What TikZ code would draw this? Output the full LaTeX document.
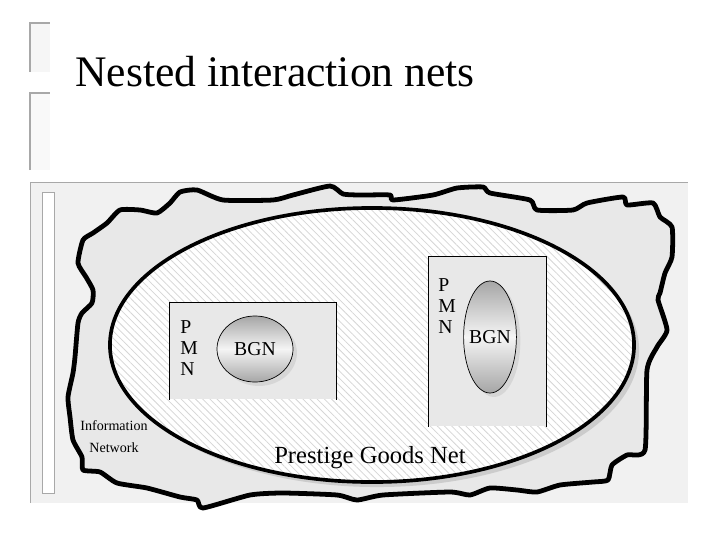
\documentclass[tikz,border=0pt]{standalone}
\usepackage{fontspec}
\setmainfont{Liberation Serif}
\usepackage{tikz}
\usetikzlibrary{shapes.geometric, positioning, shadows, patterns.meta}
\definecolor{panel}{HTML}{F1F1F1}
\definecolor{netfill}{HTML}{E8E8E8}
\definecolor{hatch}{HTML}{D6D6D6}
\definecolor{edge}{HTML}{A8A8A8}

\begin{document}
\begin{tikzpicture}[x=0.025cm, y=-0.025cm,
    pmnbox/.style={rectangle, fill=netfill, inner sep=0pt, anchor=north west},
    pmnlabel/.style={align=left, inner sep=0pt, font=\fontsize{14}{15}\selectfont},
    bgn/.style={ellipse, draw=black, line width=0.5pt, inner sep=0pt,
        top color=gray!70, bottom color=gray!70, middle color=gray!8,
        drop shadow={shadow xshift=2.8pt, shadow yshift=-2.8pt, fill=gray!45},
        label={[font=\fontsize{14}{15}\selectfont]center:BGN}}]
    \useasboundingbox (0,0) rectangle (720,540);

    % slide frame
    \fill[gray!7] (30,23) rectangle (50,72);
    \draw[edge, line width=1.2pt] (30,72) |- (50,23);
    \fill[gray!5] (30,93) rectangle (50,170);
    \draw[edge, line width=1.2pt] (30,170) |- (50,93);
    \node[anchor=base west, inner sep=0pt, font=\fontsize{31}{36}\selectfont] (title) at (75,86) {Nested interaction nets};

    \fill[panel] (30,182) rectangle (688,503);
    \draw[edge] (30,503) |- (688,182);
    \filldraw[fill=white, draw=edge] (42,192) rectangle (54,493);

    % information network
    \draw[line width=3.4pt, line join=round, fill=netfill] plot[smooth cycle, tension=0.35] coordinates {
        (78,263) (83,240) (93,233) (107,223) (120,210) (140,210) (157,213) (170,203) (180,192)
        (197,190) (223,200) (273,200) (293,195) (330,186) (343,194) (360,195) (390,195) (393,200)
        (433,195) (457,188) (483,187) (490,193) (530,200) (537,210) (573,210) (587,203) (623,197)
        (627,205) (653,203) (660,217) (672,227) (672,257) (665,273) (660,293) (658,300) (667,330)
        (657,347) (647,370) (645,450) (627,455) (612,465) (608,480) (593,482) (560,485) (537,492)
        (517,490) (490,488) (470,495) (450,492) (383,495) (357,500) (337,495) (283,493) (250,495)
        (203,508) (197,500) (180,497) (147,488) (117,483) (100,472) (83,470) (82,457) (73,440)
        (70,417) (68,397) (73,373) (75,357) (78,323) (82,313) (92,303) (93,290) (86,277)};
    \node[align=center, inner sep=0pt, font=\fontsize{10}{15.6}\selectfont] (infonet) at (114,437) {Information\\Network};

    % prestige goods net
    \fill[gray!40] (377,350) ellipse [x radius=6.55cm, y radius=3.425cm];
    \draw[line width=2.6pt, preaction={fill=white},
        pattern={Lines[angle=-45, distance=3.6pt, line width=0.55pt]}, pattern color=hatch]
        (372,345) ellipse [x radius=6.55cm, y radius=3.425cm];
    \node[anchor=base, inner sep=0pt, font=\fontsize{17.5}{20}\selectfont] (pgn) at (370,463) {Prestige Goods Net};

    % left PMN
    \node[pmnbox, minimum width=4.175cm, minimum height=2.425cm] (boxL) at (169,302) {};
    \draw[line width=0.6pt] (boxL.south west) |- (boxL.north east) -- (boxL.south east);
    \node[pmnlabel, below right=0.45cm and 0.275cm of boxL.north west] (pmnL) {P\\M\\N};
    \node[bgn, minimum width=1.9cm, minimum height=1.65cm] (bgnL) at (255,349) {};

    % right PMN
    \node[pmnbox, minimum width=2.95cm, minimum height=4.25cm] (boxR) at (428,256) {};
    \draw[line width=0.6pt] (boxR.south west) |- (boxR.north east) -- (boxR.south east);
    \node[pmnlabel, below right=0.55cm and 0.25cm of boxR.north west] (pmnR) {P\\M\\N};
    \node[bgn, minimum width=1.32cm, minimum height=2.8cm] (bgnR) at (490,337) {};
\end{tikzpicture}
\end{document}
